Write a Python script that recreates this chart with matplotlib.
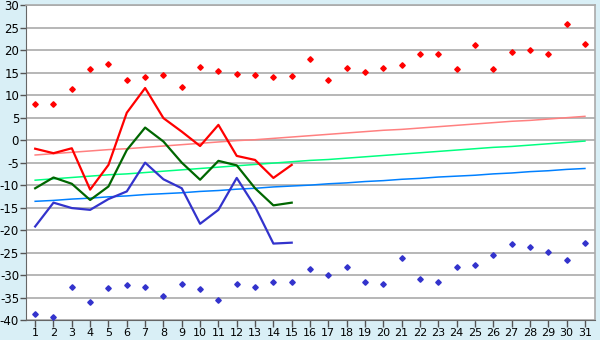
import matplotlib
matplotlib.use("Agg")
import matplotlib.pyplot as plt

plt.rcParams['axes.unicode_minus'] = False
plt.rcParams['font.family'] = ['DejaVu Sans']

days = list(range(1, 32))
obs_days = list(range(1, 16))

# record highs / lows (diamonds)
rec_max = [8.0, 8.0, 11.3, 15.8, 17.0, 13.3, 14.0, 14.4, 11.8, 16.3, 15.3, 14.7, 14.4, 14.0, 14.2,
           18.0, 13.3, 16.0, 15.1, 16.0, 16.7, 19.1, 19.1, 15.8, 21.1, 15.8, 19.6, 20.0, 19.1, 25.8, 21.3]
rec_min = [-38.7, -39.3, -32.7, -36.0, -32.9, -32.2, -32.7, -34.7, -32.0, -33.1, -35.6, -32.0, -32.7, -31.6, -31.6,
           -28.7, -30.0, -28.2, -31.6, -32.0, -26.2, -30.9, -31.6, -28.2, -27.8, -25.6, -23.1, -23.8, -24.9, -26.7, -22.9]

# observed this month (days 1-15)
obs_max = [-1.9, -2.9, -1.8, -11.0, -5.5, 6.1, 11.6, 4.9, 1.9, -1.3, 3.4, -3.5, -4.4, -8.4, -5.5]
obs_mean = [-10.7, -8.3, -9.7, -13.3, -10.3, -2.2, 2.8, -0.3, -5.0, -8.8, -4.6, -5.6, -10.7, -14.5, -13.9]
obs_min = [-19.2, -13.9, -15.1, -15.5, -13.1, -11.4, -5.0, -8.7, -10.7, -18.6, -15.5, -8.4, -14.8, -23.0, -22.8]

# normals
norm_max = [-3.3, -3.0, -2.7, -2.4, -2.1, -1.9, -1.6, -1.3, -1.0, -0.7, -0.4, -0.1, 0.1, 0.4, 0.7, 1.0,
            1.3, 1.6, 1.9, 2.2, 2.4, 2.7, 3.0, 3.3, 3.6, 3.9, 4.2, 4.4, 4.7, 5.0, 5.3]
norm_mean = [-8.9, -8.6, -8.3, -8.0, -7.7, -7.5, -7.2, -6.9, -6.6, -6.3, -6.0, -5.7, -5.4, -5.1, -4.8, -4.5,
             -4.3, -4.0, -3.7, -3.4, -3.1, -2.8, -2.5, -2.2, -1.9, -1.6, -1.4, -1.1, -0.8, -0.5, -0.2]
norm_min = [-13.6, -13.4, -13.1, -12.9, -12.6, -12.4, -12.1, -11.9, -11.7, -11.4, -11.2, -10.9, -10.7, -10.4,
            -10.2, -10.0, -9.7, -9.5, -9.2, -9.0, -8.7, -8.5, -8.2, -8.0, -7.8, -7.5, -7.3, -7.0, -6.8, -6.5, -6.3]

yticks = list(range(-40, 31, 5))

fig = plt.figure(figsize=(6, 3.4), dpi=100, facecolor="#d9eff6")
ax = fig.add_axes([26 / 600, 20 / 340, 569 / 600, 314.7 / 340])
ax.set_facecolor("white")

for y in yticks:
    ax.axhline(y, color="#aaaaaa", lw=1.2, zorder=1)

ax.plot(days, norm_max, color="#ff8080", lw=1.1, zorder=2)
ax.plot(days, norm_mean, color="#00ff80", lw=1.1, zorder=2)
ax.plot(days, norm_min, color="#0080ff", lw=1.1, zorder=2)

ax.plot(obs_days, obs_max, color="#ff0000", lw=1.6, zorder=3)
ax.plot(obs_days, obs_mean, color="#006600", lw=1.6, zorder=3)
ax.plot(obs_days, obs_min, color="#3333cc", lw=1.6, zorder=3)

ax.plot(days, rec_max, linestyle="None", marker="D", ms=2.8, color="#ff0000", zorder=4)
ax.plot(days, rec_min, linestyle="None", marker="D", ms=2.8, color="#3333cc", zorder=4)

ax.set_xlim(0.5, 31.55)
ax.set_ylim(-40, 30)
ax.set_xticks(days)
ax.set_yticks(yticks)
ax.tick_params(axis="x", direction="out", length=5, width=1, color="#555555", labelsize=8, pad=1)
ax.tick_params(axis="y", direction="out", length=4, width=1, color="#555555", labelsize=8.5, pad=1)

for side in ["top", "right"]:
    ax.spines[side].set_color("#aaaaaa")
    ax.spines[side].set_linewidth(1.2)
ax.spines["left"].set_color("#666666")
ax.spines["bottom"].set_color("#666666")

fig.savefig("out.png", dpi=100, facecolor=fig.get_facecolor())
